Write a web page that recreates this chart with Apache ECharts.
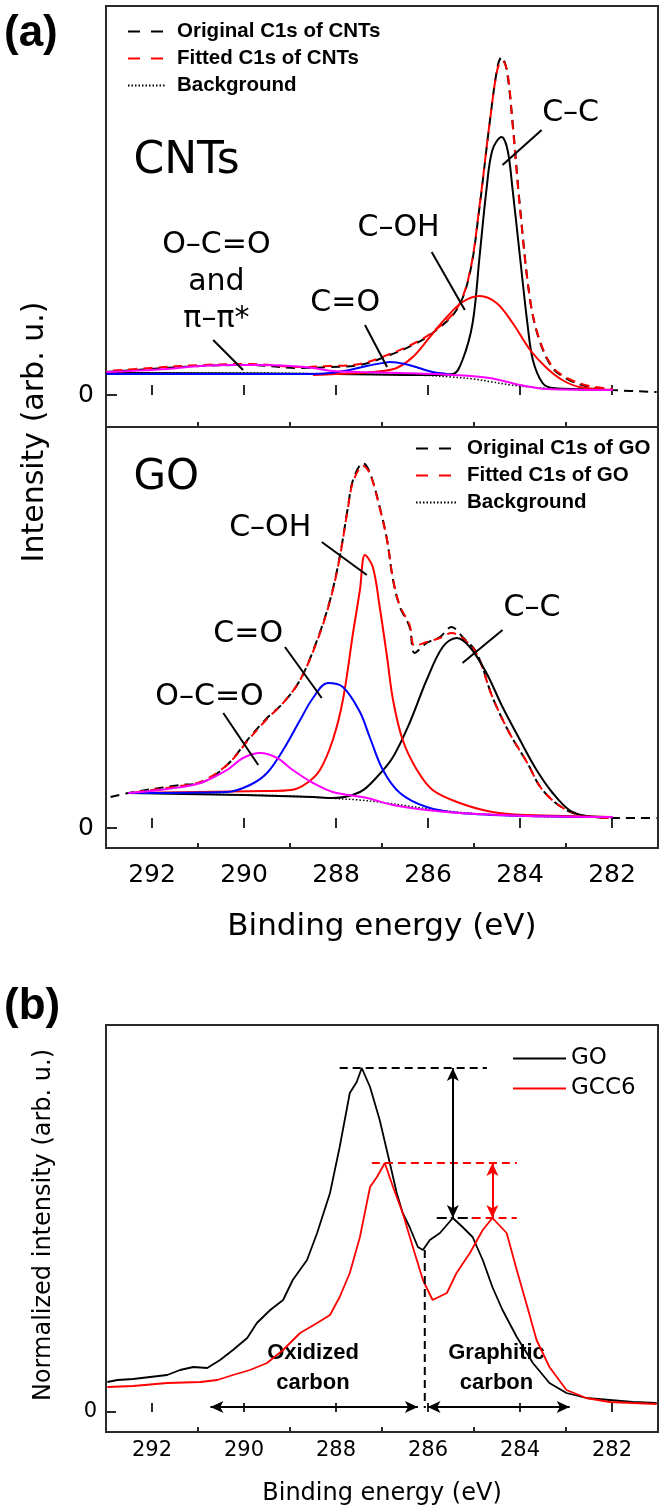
<!DOCTYPE html>
<html><head><meta charset="utf-8">
<script src="https://cdn.jsdelivr.net/npm/echarts@6/dist/echarts.min.js"></script>
<style>html,body{margin:0;padding:0;background:#fff}#c{width:666px;height:1512px}</style>
</head><body><div id="c"></div>
<script>
// ---------- axis ticks ----------
const xTicksMajor = [282, 284, 286, 288, 290, 292];
const xTicksMinor = [283, 285, 287, 289, 291];
const yTicks = [0];

// ---------- panel (a) top: CNTs  [binding energy eV, intensity] ----------
const cntOriginal = [[292.99,23],[292.04,26],[290.95,29],[289.87,30],[288.78,27],[288.13,28],[287.48,30],[286.83,40],[286.33,50],[285.90,62],[285.38,85],[285.09,122],[284.88,188],[284.66,272],[284.49,328],[284.40,338],[284.29,325],[284.16,272],[284.00,188],[283.78,95],[283.58,55],[283.29,27],[282.93,15],[282.49,8],[281.98,5],[281.03,3]];
const cntFitted = [[292.99,24],[292.04,27],[290.95,30],[289.87,31],[288.78,28],[288.13,29],[287.48,31],[286.83,41],[286.33,51],[285.90,63],[285.38,86],[285.09,123],[284.88,189],[284.66,272],[284.49,326],[284.38,334],[284.27,322],[284.16,270],[284.00,186],[283.78,95],[283.58,56],[283.29,28],[282.93,16],[282.49,9],[281.98,6]];
const cntBackground = [[292.99,22],[290.0,22],[288.0,21],[287.0,20.5],[286.0,19.5],[285.5,18],[285.0,16],[284.6,13],[284.2,10],[283.8,8],[283.3,6.5],[282.5,5.5],[281.98,5]];
const cntCC = [[292.99,22],[288.0,21],[286.0,20],[285.46,21],[285.25,35],[285.03,72],[284.88,138],[284.73,205],[284.60,245],[284.40,258],[284.27,245],[284.16,205],[284.00,138],[283.84,72],[283.72,35],[283.51,12],[283.29,7],[282.5,5.5],[281.98,5]];
const cntCOH = [[288.5,20],[288.0,21],[287.5,22],[287.0,24],[286.68,27],[286.33,38],[285.96,58],[285.59,78],[285.25,93],[284.88,99],[284.51,92],[284.16,72],[283.78,45],[283.42,27],[283.08,15],[282.71,8],[281.98,5]];
const cntCO = [[292.99,21],[289.0,21],[288.5,21],[288.13,22],[287.7,25],[287.33,29],[286.98,32],[286.83,33],[286.5,31],[286.2,27],[285.9,23],[285.6,21],[285.46,20]];
const cntOCO = [[292.99,23],[292.47,24],[291.67,26],[290.95,29],[290.24,30],[289.65,30],[289.0,29],[288.50,27],[288.07,24],[287.48,23],[286.61,22],[285.46,20],[284.66,17],[284.00,10],[283.42,6],[281.98,5]];

// ---------- panel (a) bottom: GO ----------
const goOriginal = [[292.90,31],[292.51,35],[291.39,43],[290.95,45],[290.37,63],[289.87,91],[289.50,110],[289.15,125],[288.78,148],[288.41,188],[288.13,228],[287.92,271],[287.74,321],[287.63,348],[287.41,365],[287.26,355],[287.05,321],[286.89,288],[286.76,248],[286.61,221],[286.40,201],[286.29,175],[286.03,185],[285.74,191],[285.49,201],[285.25,191],[284.94,175],[284.60,131],[284.23,95],[283.84,65],[283.51,38],[282.99,18],[282.42,11],[281.83,10],[281.03,10]];
const goFitted = [[292.51,35],[291.39,42],[290.95,46],[290.37,63],[289.87,90],[289.50,109],[289.15,125],[288.78,148],[288.41,187],[288.13,227],[287.92,270],[287.74,320],[287.63,346],[287.41,362],[287.26,354],[287.05,320],[286.89,288],[286.76,249],[286.61,222],[286.40,203],[286.29,182],[286.03,186],[285.74,190],[285.49,195],[285.25,190],[284.94,174],[284.60,131],[284.23,95],[283.84,65],[283.51,38],[282.99,18],[282.42,11],[281.98,10]];
const goBackground = [[292.51,35],[291.0,34],[290.0,33],[289.0,32],[288.2,30],[287.5,28],[287.0,25.5],[286.5,22.5],[286.0,19],[285.5,16.5],[285.0,14.5],[284.5,13],[284.0,12],[283.0,11],[281.98,10.5]];
const goCC = [[292.51,35],[290.0,33],[288.5,31],[288.07,30],[287.48,36],[287.11,51],[286.76,71],[286.40,105],[286.03,148],[285.68,181],[285.38,190],[285.09,181],[284.73,155],[284.38,121],[284.00,88],[283.64,58],[283.29,35],[282.93,18],[282.56,12],[281.98,11]];
const goCOH = [[292.51,35],[289.5,37],[288.97,38],[288.63,45],[288.35,58],[288.07,88],[287.85,128],[287.63,195],[287.48,238],[287.37,273],[287.20,261],[287.05,221],[286.89,171],[286.76,128],[286.55,88],[286.24,58],[285.90,38],[285.31,25],[284.60,16],[283.84,13],[281.98,11]];
const goCO = [[292.51,35],[290.37,36],[289.87,43],[289.50,55],[289.15,78],[288.78,108],[288.50,130],[288.18,145],[287.85,141],[287.48,116],[287.26,90],[286.98,58],[286.61,35],[286.03,21],[285.31,15],[283.84,12],[281.98,11]];
const goOCO = [[292.51,35],[291.67,39],[290.95,45],[290.37,58],[290.02,70],[289.65,75],[289.28,70],[288.94,58],[288.50,45],[288.07,36],[287.33,30],[286.76,23],[286.03,18],[285.31,15],[283.84,12],[281.98,11]];

// ---------- panel (b): normalized spectra ----------
const bGO = [[292.97,30],[292.75,32],[292.41,33],[292.04,35],[291.67,37],[291.39,42],[291.10,45],[290.80,44],[290.52,52],[290.24,62],[289.93,74],[289.72,89],[289.43,102],[289.15,112],[288.94,132],[288.63,152],[288.41,179],[288.13,219],[287.92,265],[287.70,319],[287.55,330],[287.44,344],[287.26,325],[287.05,292],[286.83,249],[286.68,219],[286.55,199],[286.40,185],[286.22,165],[286.11,162],[285.96,172],[285.74,179],[285.46,194],[285.25,185],[285.03,175],[284.81,152],[284.60,125],[284.38,102],[284.07,75],[283.72,49],[283.36,29],[282.99,19],[282.56,14],[282.05,12],[281.55,10],[281.03,9]];
const bGCC6 = [[292.97,25],[292.41,26],[291.67,29],[290.95,30],[290.58,32],[290.24,37],[289.87,42],[289.50,49],[289.15,62],[288.78,79],[288.41,89],[288.13,97],[287.92,115],[287.70,139],[287.48,175],[287.26,225],[287.11,235],[286.94,249],[286.76,225],[286.55,199],[286.33,165],[286.11,132],[285.90,112],[285.59,119],[285.38,139],[285.09,159],[284.81,182],[284.60,194],[284.29,179],[284.07,142],[283.84,105],[283.64,72],[283.36,45],[282.99,22],[282.56,14],[282.05,10],[281.55,9],[281.03,8]];

// ---------- annotations ----------
const cntLabels = [{value:[291.25,233],name:'CNTs',big:true},{value:[282.90,282],name:'C–C'},{value:[286.64,167],name:'C–OH'},{value:[287.80,92],name:'C=O'},{value:[290.60,113],name:'O–C=O\nand\nπ–π*'}];
const cntPointers = [[[283.53,265],[284.38,230]],[[285.92,143],[285.20,85]],[[287.37,70],[286.89,28]],[[290.67,55],[290.02,25]]];
const goLabels = [{value:[291.69,350],name:'GO',big:true},{value:[289.43,300],name:'C–OH'},{value:[289.91,194],name:'C=O'},{value:[290.75,131],name:'O–C=O'},{value:[283.74,220],name:'C–C'}];
const goPointers = [[[288.31,286],[287.33,253]],[[289.11,181],[288.31,130]],[[290.45,115],[289.69,63]],[[284.38,198],[285.25,165]]];
const bLabels = [{value:[288.5,44],name:'Oxidized\ncarbon'},{value:[284.51,44],name:'Graphitic\ncarbon'}];
const bPeakLineGO = [[287.92,344],[284.72,344]];
const bPeakLineGCC6 = [[287.22,249],[284.07,249]];
const bShoulderLineGO = [[285.81,194],[285.03,194]];
const bShoulderLineGCC6 = [[285.03,194],[284.07,194]];
const bBoundary = [[286.07,162],[286.07,4]];
const bArrowsBlack = [[[285.46,344],[285.46,194]],[[290.73,5],[286.22,5]],[[286.01,5],[282.92,5]]];
const bArrowsRed = [[[284.60,249],[284.60,194]]];

// ---------- chart ----------
const SANS = 'DejaVu Sans', ARIAL = 'Liberation Sans';
const RED = '#ff0000', BLUE = '#0000ff', MAG = '#ff00ff', BLK = '#000000', FRAME = '#2a2a2a';
const grids = [
  {left:106, width:552, top:6, height:421},
  {left:106, width:552, top:427, height:421},
  {left:106, width:552, top:1025, height:407}
].map(g => Object.assign(g, {show:true, borderColor:FRAME, borderWidth:2, backgroundColor:'transparent'}));

const yRanges = [[-32,389],[-20,401],[-20,387]];
const labelSize = [25,25,21];
const xAxes = [], yAxes = [];
[0,1,2].forEach(i => {
  xAxes.push({gridIndex:i, type:'value', inverse:true, min:281, max:293, position:'bottom',
    axisLine:{show:false}, splitLine:{show:false},
    axisTick:{inside:true, length: i===2 ? 9 : 10, customValues:xTicksMajor, lineStyle:{color:FRAME,width:2}},
    axisLabel:{show:i>0, customValues:xTicksMajor, color:'#000', fontFamily:SANS, fontSize:labelSize[i], margin: i===2 ? 8 : 15},
    name: i>0 ? 'Binding energy (eV)' : '', nameLocation:'middle', nameGap: i===2 ? 50 : 63,
    nameTextStyle:{fontFamily:SANS, fontSize: i===2 ? 24 : 31, color:'#000'}
  });
  xAxes.push({gridIndex:i, type:'value', inverse:true, min:281, max:293, position:'bottom',
    axisLine:{show:false}, splitLine:{show:false}, axisLabel:{show:false},
    axisTick:{inside:true, length:5, customValues:xTicksMinor, lineStyle:{color:FRAME,width:2}}
  });
  yAxes.push({gridIndex:i, type:'value', min:yRanges[i][0], max:yRanges[i][1],
    axisLine:{show:false}, splitLine:{show:false},
    axisTick:{inside:true, length: i===2 ? 10 : 11, customValues:yTicks, lineStyle:{color:FRAME,width:2}},
    axisLabel:{customValues:yTicks, color:'#000', fontFamily:SANS, fontSize:labelSize[i], margin: i===2 ? 9 : 12}
  });
});

function curve(name, data, gi, color, dash, width, extra) {
  return Object.assign({name, type:'line', data, xAxisIndex:gi*2, yAxisIndex:gi, symbol:'none', showSymbol:false,
    smooth: gi===2 ? false : 0.35, lineStyle:{color, width: width||2, type: dash||'solid'}, itemStyle:{color},
    emphasis:{disabled:true}, animation:false}, extra||{});
}
function labelSeries(name, data, gi, font, segments, lineColor) {
  return {name, type:'scatter', data, xAxisIndex:gi*2, yAxisIndex:gi, symbolSize:1,
    itemStyle:{color:'rgba(255,255,255,0)'}, silent:true, animation:false,
    label:{show:true, position:'inside', formatter:p=>p.name, color:'#000', opacity:1, textBorderWidth:0,
      fontFamily:font.family, fontWeight:font.weight||'normal', fontSize:font.size, lineHeight:font.lh},
    labelLayout:{hideOverlap:false},
    markLine:{silent:true, animation:false, symbol: font.arrows ? ['arrow','arrow'] : ['none','none'], symbolSize:[9,13],
      label:{show:false}, lineStyle:{color:lineColor||'#000', width:2, type:'solid'},
      data: segments.map(s => [{coord:s[0]},{coord:s[1]}])}
  };
}

const DASH = [9,6];
const series = [
  curve('Original C1s of CNTs', cntOriginal, 0, BLK, DASH, 2),
  curve('Fitted C1s of CNTs', cntFitted, 0, RED, DASH, 2, {lineStyle:{color:RED,width:2,type:DASH,dashOffset:8}}),
  curve('Background', cntBackground, 0, BLK, [1.5,2], 1.5),
  curve('C–C (CNTs)', cntCC, 0, BLK),
  curve('C–OH (CNTs)', cntCOH, 0, RED),
  curve('C=O (CNTs)', cntCO, 0, BLUE),
  curve('O–C=O (CNTs)', cntOCO, 0, MAG),
  labelSeries('lblCNT', cntLabels.map(d=>({value:d.value,name:d.name, label: d.big?{fontSize:44}:undefined})), 0, {family:SANS,size:30,lh:37}, cntPointers),

  curve('Original C1s of GO', goOriginal, 1, BLK, DASH, 2),
  curve('Fitted C1s of GO', goFitted, 1, RED, DASH, 2, {lineStyle:{color:RED,width:2,type:DASH,dashOffset:8}}),
  curve('Background', goBackground, 1, BLK, [1.5,2], 1.5),
  curve('C–C (GO)', goCC, 1, BLK),
  curve('C–OH (GO)', goCOH, 1, RED),
  curve('C=O (GO)', goCO, 1, BLUE),
  curve('O–C=O (GO)', goOCO, 1, MAG),
  labelSeries('lblGO', goLabels.map(d=>({value:d.value,name:d.name, label: d.big?{fontSize:42}:undefined})), 1, {family:SANS,size:30,lh:37}, goPointers),

  curve('GO', bGO, 2, BLK, 'solid', 1.8),
  curve('GCC6', bGCC6, 2, RED, 'solid', 1.8, {markLine:{silent:true, animation:false, symbol:['arrow','arrow'], symbolSize:[9,13], label:{show:false},
    lineStyle:{color:RED,width:2,type:'solid'}, data: bArrowsRed.map(s=>[{coord:s[0]},{coord:s[1]}])}}),
  curve('peakGO', bPeakLineGO, 2, BLK, [8,5], 2),
  curve('peakGCC6', bPeakLineGCC6, 2, RED, [8,5], 2),
  curve('shGO', bShoulderLineGO, 2, BLK, [10,4,3,4], 2),
  curve('shGCC6', bShoulderLineGCC6, 2, RED, [8,5], 2),
  curve('boundary', bBoundary, 2, BLK, [8,5], 2),
  labelSeries('lblB', bLabels, 2, {family:ARIAL,weight:'bold',size:22,lh:30,arrows:true}, bArrowsBlack)
];

const legendText = {fontFamily:ARIAL, fontWeight:'bold', fontSize:20.5, color:'#000', padding:[0,0,0,6]};
const legDash = (name, color) => ({name, lineStyle:{color, width:2, type:[12,11], dashOffset:0}});
const option = {
  animation:false,
  backgroundColor:'#fff',
  grid: grids,
  xAxis: xAxes,
  yAxis: yAxes,
  legend: [
    {data:[legDash('Original C1s of CNTs', BLK), legDash('Fitted C1s of CNTs', RED), 'Background'], orient:'vertical', left:122, top:16,
      itemWidth:38, itemHeight:14, itemGap:6, itemStyle:{opacity:0}, textStyle:legendText, selectedMode:false},
    {data:[legDash('Original C1s of GO', BLK), legDash('Fitted C1s of GO', RED), 'Background'], orient:'vertical', left:410, top:433,
      itemWidth:40, itemHeight:14, itemGap:6, itemStyle:{opacity:0}, textStyle:legendText, selectedMode:false},
    {data:['GO','GCC6'], orient:'vertical', left:507, top:1042, itemWidth:53, itemHeight:14, itemGap:7, itemStyle:{opacity:0},
      textStyle:{fontFamily:SANS, fontSize:23, color:'#000', padding:[0,0,0,0]}, selectedMode:false}
  ],
  graphic: [
    {type:'text', left:4, top:12, style:{text:'(a)', font:'bold 44px "Liberation Sans"', fill:'#000'}},
    {type:'text', left:4, top:985, style:{text:'(b)', font:'bold 44px "Liberation Sans"', fill:'#000'}},
    {type:'text', x:35, y:432, rotation:Math.PI/2, style:{text:'Intensity (arb. u.)', font:'30px "DejaVu Sans"', fill:'#000', textAlign:'center', textVerticalAlign:'middle', align:'center', verticalAlign:'middle'}},
    {type:'text', x:44, y:1225, rotation:Math.PI/2, style:{text:'Normalized intensity (arb. u.)', font:'24px "DejaVu Sans"', fill:'#000', textAlign:'center', textVerticalAlign:'middle', align:'center', verticalAlign:'middle'}}
  ],
  series
};
const chart = echarts.init(document.getElementById('c'), null, {renderer:'canvas'});
chart.setOption(option);
</script>
</body></html>
